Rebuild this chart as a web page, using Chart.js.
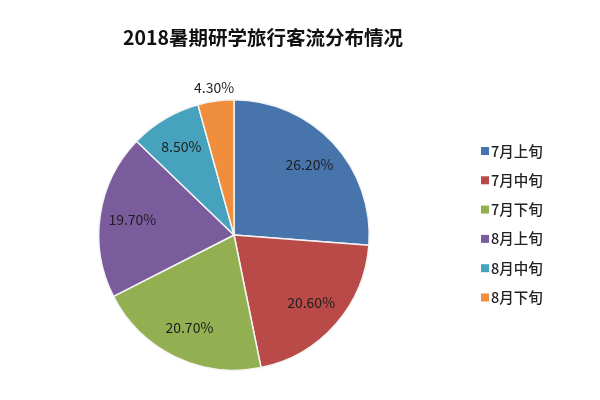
<!DOCTYPE html>
<html><head><meta charset="utf-8">
<script src="https://cdn.jsdelivr.net/npm/chart.js@4"></script>
<style>html,body{margin:0;padding:0;background:#fff}#wrap{width:600px;height:400px}</style>
</head><body><div id="wrap"><canvas id="c" width="600" height="400"></canvas></div>
<script>
const title = "2018暑期研学旅行客流分布情况";
const categories = ["7月上旬","7月中旬","7月下旬","8月上旬","8月中旬","8月下旬"];
const values = [26.2, 20.6, 20.7, 19.7, 8.5, 4.3];
const labels = ["26.20%","20.60%","20.70%","19.70%","8.50%","4.30%"];
const colors = ["#4674ab","#b94a47","#92b052","#7a5c9c","#47a3bd","#ef8f3e"];
const FONT = '"Noto Sans CJK SC","Noto Sans",sans-serif';

const extras = {
  id: 'extras',
  afterDraw(chart) {
    const ctx = chart.ctx;
    ctx.save();
    // title
    ctx.fillStyle = '#111';
    ctx.font = 'bold 19.5px ' + FONT;
    ctx.textAlign = 'center';
    ctx.textBaseline = 'middle';
    ctx.fillText(title, 263, 38);
    // data labels
    const meta = chart.getDatasetMeta(0);
    ctx.font = '14px ' + FONT;
    meta.data.forEach((arc, i) => {
      const p = arc.getProps(['x','y','startAngle','endAngle','outerRadius'], true);
      const mid = (p.startAngle + p.endAngle) / 2;
      const small = values[i] < 5;
      const r = small ? p.outerRadius + 13 : p.outerRadius * 0.76;
      ctx.fillStyle = '#1e1e1e';
      ctx.fillText(labels[i], p.x + Math.cos(mid) * r, p.y + Math.sin(mid) * r);
    });
    // legend
    ctx.textAlign = 'left';
    ctx.font = '500 14.5px ' + FONT;
    categories.forEach((c, i) => {
      const y = 151 + i * 29.3;
      ctx.fillStyle = colors[i];
      ctx.fillRect(481, y - 4, 8, 8);
      ctx.fillStyle = '#222';
      ctx.fillText(c, 491, y);
    });
    ctx.restore();
  }
};

new Chart(document.getElementById('c'), {
  type: 'pie',
  data: {
    labels: categories,
    datasets: [{
      data: values,
      backgroundColor: colors,
      borderColor: '#f4f4f4',
      borderWidth: 1.5
    }]
  },
  options: {
    responsive: false,
    animation: false,
    layout: { padding: { top: 99, bottom: 29, left: 98, right: 230 } },
    plugins: { legend: { display: false }, title: { display: false }, tooltip: { enabled: false } }
  },
  plugins: [extras]
});
</script></body></html>
